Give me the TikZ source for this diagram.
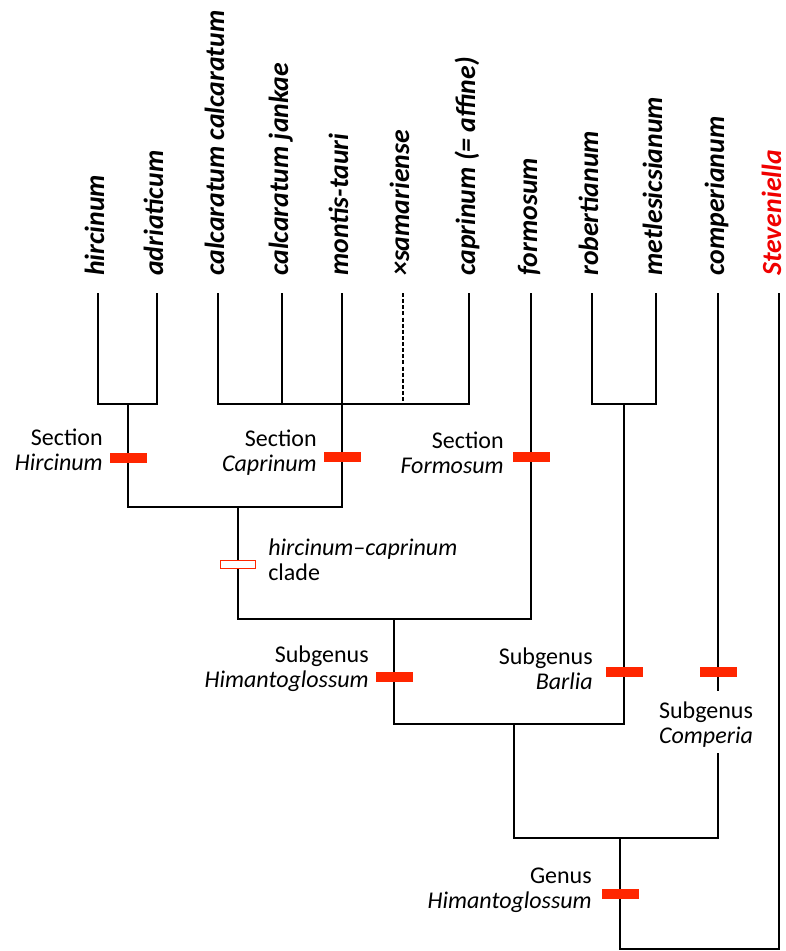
\documentclass[tikz,border=0pt]{standalone}
\usepackage{fontspec}
\setmainfont{Carlito}
\definecolor{barred}{RGB}{255,38,0}
\definecolor{tipred}{RGB}{240,0,0}
\begin{document}
\begin{tikzpicture}[x=0.75pt,y=-0.75pt,
  tree/.style={draw=black, line width=1.5pt, line join=miter},
  tiplab/.style={rotate=90, anchor=base west, inner sep=0pt, font=\fontsize{20.8}{24}\selectfont\bfseries\itshape},
  lab/.style={inner sep=0pt, font=\fontsize{18}{18.75}\selectfont},
  fullbar/.style={fill=barred, draw=none, inner sep=0pt, minimum width=27.75pt, minimum height=7.5pt},
  openbar/.style={fill=white, draw=barred, line width=1.2pt, inner sep=0pt, minimum width=26pt, minimum height=6.2pt}]
\useasboundingbox (0,0) rectangle (786,951);
% tips
\coordinate (t1) at (98,293);
\coordinate (t2) at (157,293);
\coordinate (t3) at (218,293);
\coordinate (t4) at (282,293);
\coordinate (t5) at (342,293);
\coordinate (t6) at (403,293);
\coordinate (t7) at (469,293);
\coordinate (t8) at (531,293);
\coordinate (t9) at (592,293);
\coordinate (t10) at (656,293);
\coordinate (t11) at (718,293);
\coordinate (t12) at (779,293);
% tip labels
\node[tiplab] (l1) at (104,276) {hircinum};
\node[tiplab] (l2) at (163,276) {adriaticum};
\node[tiplab] (l3) at (224,276) {calcaratum calcaratum};
\node[tiplab] (l4) at (288,276) {calcaratum jankae};
\node[tiplab] (l5) at (348,276) {montis-tauri};
\node[tiplab] (l6) at (409,276) {×samariense};
\node[tiplab] (l7) at (475,276) {caprinum (= affine)};
\node[tiplab] (l8) at (537,276) {formosum};
\node[tiplab] (l9) at (598,276) {robertianum};
\node[tiplab] (l10) at (662,276) {metlesicsianum};
\node[tiplab] (l11) at (724,276) {comperianum};
\node[tiplab, text=tipred] (l12) at (781,276) {Steveniella};
% internal nodes
\coordinate (n1) at (128,404);
\coordinate (n2) at (342,404);
\coordinate (n3) at (238,507);
\coordinate (n4) at (394,619);
\coordinate (n5) at (624,404);
\coordinate (n6) at (514,724);
\coordinate (n7) at (620,838);
\coordinate (r) at (620,949);
\coordinate (c1) at (718,691);
\coordinate (c2) at (718,753);
% branches
\draw[tree] (t1) |- (n1) -| (t2);
\draw[tree] (t3) |- (n2) -| (t7);
\draw[tree] (t4) -- (t4 |- n2);
\draw[tree] (t5) -- (n2);
\draw[tree, line width=1.2pt, dash pattern=on 3pt off 1.6pt] (t6) -- (t6 |- n2);
\draw[tree] (n1) |- (n3) -| (n2);
\draw[tree] (n3) |- (n4) -| (t8);
\draw[tree] (t9) |- (n5) -| (t10);
\draw[tree] (n4) |- (n6) -| (n5);
\draw[tree] (t11) -- (c1);
\draw[tree] (n6) |- (n7) -| (c2);
\draw[tree] (n7) -- (r) -| (t12);
% bars
\node[fullbar] (b1) at (128.5,457.5) {};
\node[fullbar] (b2) at (342,457) {};
\node[fullbar] (b3) at (531,457) {};
\node[openbar] (b4) at (238,564.5) {};
\node[fullbar] (b5) at (394,677) {};
\node[fullbar] (b6) at (624,672) {};
\node[fullbar] (b7) at (718,672) {};
\node[fullbar] (b8) at (620,894) {};
% labels
\node[lab, align=right, anchor=east] (s1) at (103,450) {Section\\\textit{Hircinum}};
\node[lab, align=right, anchor=east] (s2) at (317,453) {Section\\\textit{Caprinum}};
\node[lab, align=right, anchor=east] (s3) at (504,453) {Section\\\textit{Formosum}};
\node[lab, align=left, anchor=west] (s4) at (268,560) {\textit{hircinum–caprinum}\\clade};
\node[lab, align=right, anchor=east] (s5) at (369,669) {Subgenus\\\textit{Himantoglossum}};
\node[lab, align=right, anchor=east] (s6) at (593,669) {Subgenus\\\textit{Barlia}};
\node[lab, align=center] (s7) at (706,725) {Subgenus\\\textit{Comperia}};
\node[lab, align=right, anchor=east] (s8) at (592,890) {Genus\\\textit{Himantoglossum}};
\end{tikzpicture}
\end{document}
